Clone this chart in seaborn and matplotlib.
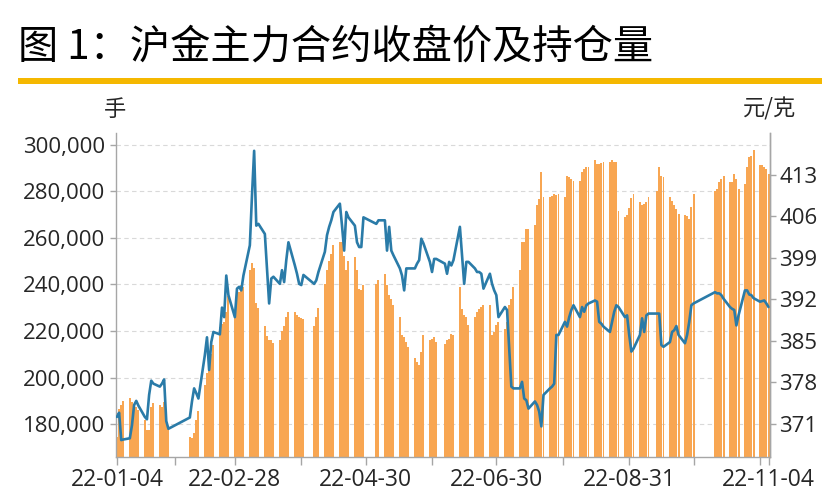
import numpy as np
import pandas as pd
import matplotlib
matplotlib.use("Agg")
import matplotlib.pyplot as plt
import matplotlib.dates as mdates
from matplotlib.patches import Rectangle
import seaborn as sns

# ---------------- data ----------------
title = "图 1：沪金主力合约收盘价及持仓量"
left_unit = "手"
right_unit = "元/克"

start_date = "2022-01-04"
end_date = "2022-11-04"
exchange_holidays = ["2022-01-31", "2022-02-01", "2022-02-02", "2022-02-03", "2022-02-04",
                     "2022-04-04", "2022-04-05", "2022-05-02", "2022-05-03", "2022-05-04",
                     "2022-06-03", "2022-09-12", "2022-10-03", "2022-10-04", "2022-10-05",
                     "2022-10-06", "2022-10-07"]

# open interest (lots), one value per trading day
open_interest = [
    # Jan
    174500, 186500, 188000, 190000, 191000, 189600, 187900, 187400, 186000, 181700,
    177400, 177400, 187400, 188900, 188100, 187400, 189600, 185300, 178100,
    # Feb
    174600, 173900, 176000, 181700, 185600, 197000, 202000, 205000, 210000, 214000,
    221700, 223000, 224000, 228000, 235000, 226700,
    # Mar
    236700, 236700, 239600, 238900, 246000, 249000, 247000, 232000, 230000, 222000,
    218000, 216000, 216000, 215000, 216000, 220000, 222000, 226000, 228000, 228000,
    226700, 226000, 225600,
    # Apr
    225300, 222000, 226000, 230000, 240000, 246000, 250000, 253000, 257000, 258000,
    258000, 252000, 246000, 250000, 251700, 246000, 238200, 237400, 239600,
    # May
    240300, 241700, 244600, 239600, 235300, 233900, 231000, 226000, 218200, 217400,
    215300, 213100, 208200, 206700, 205300, 211000, 218200, 216000, 216700,
    # Jun
    217400, 215300, 214600, 216000, 216700, 218900, 218200, 238900, 229600, 226700,
    226000, 222400, 226000, 228200, 229600, 230300, 231000, 231000, 218200, 219600,
    222400,
    # Jul
    223900, 221000, 223900, 231000, 233900, 238900, 246000, 258200, 258200, 263900,
    263900, 265300, 273900, 276700, 288200, 277400, 277400, 278000, 278900, 278200,
    278900,
    # Aug
    277400, 286700, 286000, 285300, 284600, 284600, 288200, 289600, 290300, 290300,
    293500, 291800, 291800, 292200, 292700, 292500, 293200, 292700, 292500, 271700,
    269000, 270000, 273000,
    # Sep
    277000, 279000, 275300, 273900, 274600, 275300, 277400, 280300, 290300, 286700,
    286000, 277400, 276000, 273900, 272500, 270300, 269600, 269200, 268200, 273200,
    278900,
    # Oct
    280300, 281000, 283900, 285300, 286700, 283900, 283900, 287500, 285300, 281000,
    283300, 290300, 294600, 295300, 297500, 291200,
    # Nov
    291200, 290400, 289700, 287600,
]

# closing price (yuan/gram)
close_price = [
    # Jan
    372.2, 372.9, 368.3, 368.4, 368.6, 370.8, 374.2, 374.9, 374.1, 372.2,
    371.8, 375.9, 378.3, 377.8, 377.3, 377.8, 378.5, 371.5, 370.2,
    # Feb
    372.1, 374.8, 377.0, 376.2, 375.3, 382.6, 385.6, 380.1, 384.8, 386.5,
    386.1, 390.6, 389.0, 396.0, 392.7, 389.0,
    # Mar
    393.8, 394.1, 393.5, 396.0, 401.1, 409.5, 417.0, 404.4, 404.7, 403.0,
    397.2, 391.3, 395.5, 395.8, 394.6, 396.9, 394.9, 398.6, 401.6, 397.7,
    396.3, 394.6, 394.4,
    # Apr
    396.1, 394.6, 395.2, 396.6, 400.0, 402.8, 404.2, 405.3, 406.7, 408.1,
    404.4, 400.2, 406.7, 405.8, 404.4, 401.6, 400.8, 400.8, 405.8,
    # May
    404.7, 405.3, 405.3, 400.2, 404.2, 400.2, 399.4, 397.2, 396.0, 393.5,
    397.2, 397.2, 397.2, 398.0, 398.6, 402.2, 401.4, 398.3, 396.6,
    # Jun
    398.8, 398.8, 398.0, 396.3, 398.3, 397.7, 398.6, 404.2, 399.4, 394.6,
    398.3, 398.3, 397.2, 396.6, 396.6, 396.3, 393.8, 396.3, 394.6, 393.5,
    392.7,
    # Jul
    389.0, 390.7, 390.2, 383.7, 377.3, 377.0, 377.0, 378.1, 375.3, 375.0,
    373.6, 374.8, 374.2, 373.1, 370.6, 375.9, 377.0, 377.3, 377.8, 386.0,
    386.0,
    # Aug
    388.2, 387.4, 389.0, 390.2, 391.0, 389.0, 390.7, 389.9, 391.0, 391.3,
    391.8, 391.6, 388.2, 387.9, 387.4, 386.5, 388.2, 389.9, 391.0, 390.7,
    389.0, 389.3, 386.0,
    # Sep
    383.2, 383.7, 386.0, 388.8, 386.5, 389.3, 389.6, 389.6, 389.6, 384.3,
    384.0, 384.8, 386.5, 386.8, 387.5, 386.0, 384.6, 386.0, 388.2, 391.0,
    391.3,
    # Oct
    393.2, 393.0, 393.0, 392.7, 392.1, 390.7, 390.4, 390.2, 387.6, 389.3,
    393.5, 393.5, 392.8, 392.7, 392.2, 391.6,
    # Nov
    391.7, 391.8, 391.3, 390.7,
]

left_ticks = [180000, 200000, 220000, 240000, 260000, 280000, 300000]
right_ticks = [371, 378, 385, 392, 399, 406, 413]
x_tick_dates = ["2022-01-04", "2022-01-31", "2022-02-28", "2022-03-31", "2022-04-30",
                "2022-05-31", "2022-06-30", "2022-07-31", "2022-08-31", "2022-09-30",
                "2022-10-31", "2022-11-04"]
x_label_dates = ["2022-01-04", "2022-02-28", "2022-04-30", "2022-06-30", "2022-08-31",
                 "2022-11-04"]

# ---------------- styling ----------------
BAR_COLOR = "#F8A652"
LINE_COLOR = "#2A7BA8"
TITLE_BAR = "#F5B800"
SPINE = "#A6A6A6"
TEXT = "#262626"

sns.set_theme(style="white")
plt.rcParams["font.family"] = ["Open Sans", "Noto Sans CJK SC", "DejaVu Sans"]

dates = pd.bdate_range(start_date, end_date, freq="C", holidays=exchange_holidays)
assert len(dates) == len(open_interest) == len(close_price), (len(dates), len(open_interest), len(close_price))
xnum = mdates.date2num(dates.to_pydatetime())
df = pd.DataFrame({"x": xnum, "oi": open_interest, "price": close_price})

W, H = 822, 497
fig = plt.figure(figsize=(W / 100, H / 100), dpi=100)
L, R, T, B = 116, 769.5, 133, 456.7
ax = fig.add_axes([L / W, 1 - B / H, (R - L) / W, (B - T) / H])

sns.barplot(data=df, x="x", y="oi", native_scale=True, width=0.92, color=BAR_COLOR,
            saturation=1, errorbar=None, linewidth=0, ax=ax)
ax2 = ax.twinx()
sns.lineplot(data=df, x="x", y="price", color=LINE_COLOR, linewidth=1.9, ax=ax2)

x0 = mdates.date2num(pd.Timestamp(start_date).to_pydatetime())
x1 = mdates.date2num(pd.Timestamp(end_date).to_pydatetime())
ax.set_xlim(x0 - 0.45, x1 + 0.45)
ax.set_ylim(166000, 305000)
ax2.set_ylim(365.5, 420)

ax.set_yticks(left_ticks)
ax.set_yticklabels([f"{v:,}" for v in left_ticks])
ax2.set_yticks(right_ticks)
ax2.set_yticklabels([str(v) for v in right_ticks])

tick_pos = [mdates.date2num(pd.Timestamp(d).to_pydatetime()) for d in x_tick_dates]
tick_lab = [pd.Timestamp(d).strftime("%y-%m-%d") if d in x_label_dates else "" for d in x_tick_dates]
ax.set_xticks(tick_pos)
ax.set_xticklabels(tick_lab)

for a in (ax, ax2):
    a.set_xlabel("")
    a.set_ylabel("")
    a.spines["top"].set_visible(False)
    for s in ("left", "right", "bottom"):
        a.spines[s].set_color(SPINE)
        a.spines[s].set_linewidth(1.0)
ax2.spines["left"].set_visible(False)
ax2.spines["bottom"].set_visible(False)

ax.yaxis.grid(True, linestyle=(0, (4, 3)), color="#D9D9D9", linewidth=0.8)
ax.xaxis.grid(False)
ax.set_axisbelow(True)
ax2.grid(False)

ax.tick_params(axis="y", left=True, length=4.5, width=1, color=SPINE, pad=3.5,
               labelsize=16, labelcolor=TEXT)
ax.tick_params(axis="x", bottom=True, length=6, width=1, color=SPINE, pad=2,
               labelsize=16.5, labelcolor=TEXT)
ax2.tick_params(axis="y", right=True, length=4.5, width=1, color=SPINE, pad=2.5,
                labelsize=16, labelcolor=TEXT)

# title and decoration
fig.text(18 / W, 1 - 47 / H, title, fontsize=29, family=["Noto Sans CJK SC", "DejaVu Sans"],
         weight="medium", color="black", ha="left", va="center")
fig.add_artist(Rectangle((18 / W, 1 - 84 / H), (W - 18) / W, 6 / H, transform=fig.transFigure,
                         color=TITLE_BAR, linewidth=0))
fig.text(115 / W, 1 - 109 / H, left_unit, fontsize=16, color=TEXT, ha="center", va="center",
         family=["Noto Sans CJK SC", "DejaVu Sans"])
fig.text(770 / W, 1 - 109 / H, right_unit, fontsize=16, color=TEXT, ha="center", va="center",
         family=["Noto Sans CJK SC", "DejaVu Sans"])

fig.savefig("out.png", dpi=100, facecolor="white")
